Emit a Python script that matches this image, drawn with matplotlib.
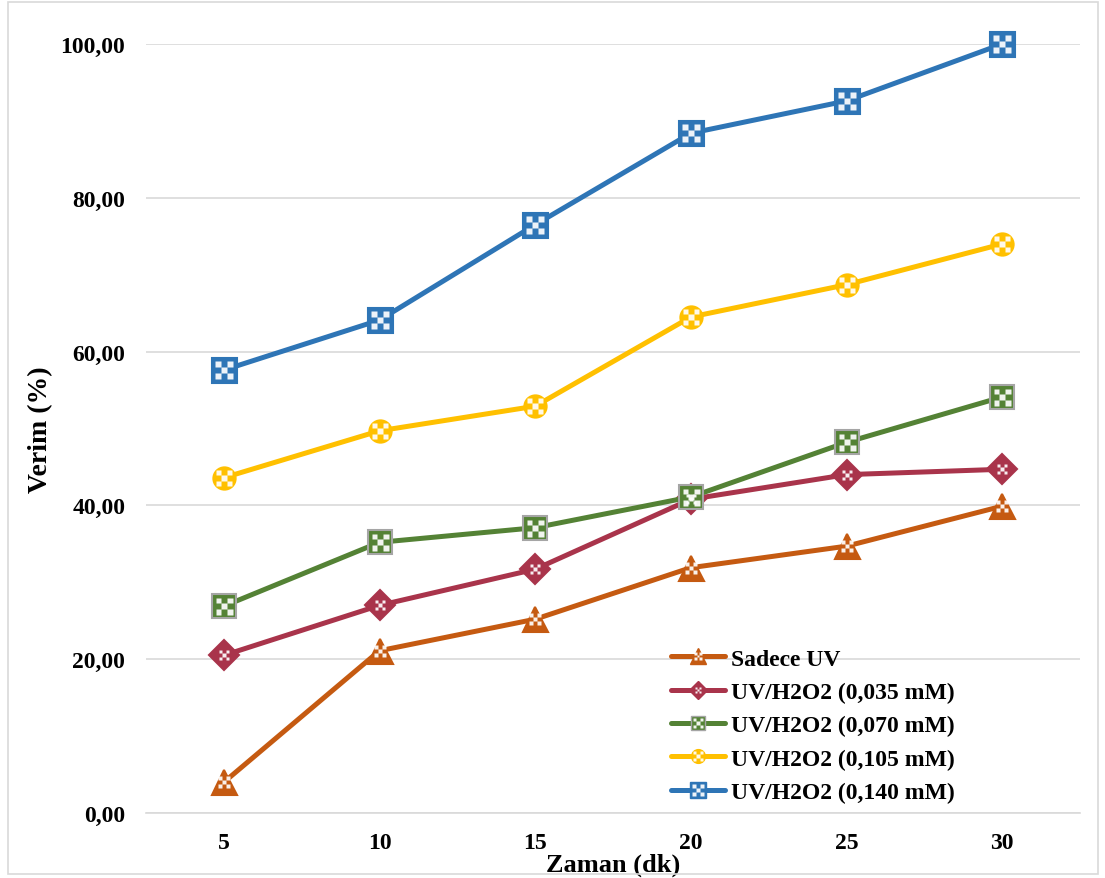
import matplotlib
matplotlib.use("Agg")
import matplotlib.pyplot as plt
from matplotlib.path import Path
from matplotlib.lines import Line2D
from matplotlib.patches import Rectangle
from matplotlib.legend_handler import HandlerTuple
import numpy as np

times = ["5", "10", "15", "20", "25", "30"]
sadece_uv = [4.0, 21.1, 25.2, 31.9, 34.7, 39.9]
uv_035 = [20.5, 27.0, 31.7, 40.8, 44.0, 44.7]
uv_070 = [26.9, 35.2, 37.1, 41.1, 48.2, 54.1]
uv_105 = [43.6, 49.7, 52.9, 64.5, 68.7, 74.0]
uv_140 = [57.6, 64.1, 76.5, 88.4, 92.6, 100.0]
labels = ["Sadece UV", "UV/H2O2 (0,035 mM)", "UV/H2O2 (0,070 mM)",
          "UV/H2O2 (0,105 mM)", "UV/H2O2 (0,140 mM)"]
yticks = [0, 20, 40, 60, 80, 100]
ytick_labels = ["0,00", "20,00", "40,00", "60,00", "80,00", "100,00"]

colors = ["#C55A11", "#A9344B", "#548235", "#FFC000", "#2E75B6"]
markers = ["^", "D", "s", "o", "s"]
msizes = [18, 15, 17, 16, 18]

plt.rcParams['font.family'] = ['Liberation Serif', 'DejaVu Serif']
plt.rcParams['font.weight'] = 'bold'

# checker-like pattern marker (3x3, X arrangement)
verts, codes = [], []
n = 3
cell = 2.0 / n
for i in range(n):
    for j in range(n):
        if (i + j) % 2 == 0:
            x0 = -1 + i * cell + 0.03
            y0 = -1 + j * cell + 0.03
            c = cell - 0.06
            verts += [(x0, y0), (x0 + c, y0), (x0 + c, y0 + c), (x0, y0 + c), (x0, y0)]
            codes += [Path.MOVETO, Path.LINETO, Path.LINETO, Path.LINETO, Path.CLOSEPOLY]
checker = Path(verts, codes)

fig = plt.figure(figsize=(11.05, 8.79), dpi=100)
ax = fig.add_axes([146/1105, 1 - 814/879, (1080-146)/1105, (814-45)/879])

x = np.arange(len(times))
series = [sadece_uv, uv_035, uv_070, uv_105, uv_140]
handles = []
for s, c, m, ms, lab in zip(series, colors, markers, msizes, labels):
    mec = "#A5A5A5" if c == "#548235" else c
    ax.plot(x, s, color=c, lw=3.6, marker=m, markersize=ms, markerfacecolor=c,
            markeredgecolor=mec, markeredgewidth=1.5, zorder=3, solid_capstyle='round',
            clip_on=False)
    pscale = 0.5 if m in ("^", "D") else 0.72
    ax.plot(x, s, linestyle='none', marker=checker, markersize=ms * pscale,
            markerfacecolor='white', markeredgecolor='none', alpha=0.92, zorder=4,
            clip_on=False)
    h1 = Line2D([], [], color=c, lw=3.6, marker=m, markersize=ms * 0.62,
                markerfacecolor=c, markeredgecolor=mec, solid_capstyle='round')
    h2 = Line2D([], [], linestyle='none', marker=checker, markersize=ms * 0.62 * pscale,
                markerfacecolor='white', markeredgecolor='none', alpha=0.92)
    handles.append((h1, h2))

ax.set_xlim(-0.5, len(times) - 0.5)
ax.set_ylim(0, 100)
ax.set_xticks(x)
ax.set_xticklabels(times, fontsize=17, fontweight='bold')
ax.set_yticks(yticks)
ax.set_yticklabels(ytick_labels, fontsize=17, fontweight='bold')
ax.tick_params(axis='both', length=0)
ax.tick_params(axis='x', pad=14)
ax.tick_params(axis='y', pad=15)
ax.grid(axis='y', color='#D9D9D9', lw=1.2, zorder=0)
ax.set_axisbelow(True)
for sp in ['top', 'right', 'left']:
    ax.spines[sp].set_visible(False)
ax.spines['bottom'].set_color('#D9D9D9')
ax.spines['bottom'].set_linewidth(1.2)

ax.set_xlabel("Zaman (dk)", fontsize=19, fontweight='bold')
ax.xaxis.set_label_coords(0.5, (814 - 854) / 769)
ax.set_ylabel("Verim (%)", fontsize=20, fontweight='bold')
ax.yaxis.set_label_coords((53 - 146) / 934, 0.5)

ax.legend(handles, labels, loc='lower left', bbox_to_anchor=((664 - 146) / 934, 3 / 769),
          frameon=False, handlelength=2.3, handletextpad=0.25,
          labelspacing=0.5, borderaxespad=0, borderpad=0.3,
          handler_map={tuple: HandlerTuple(ndivide=1, pad=0)},
          prop={'weight': 'bold', 'size': 17})

fig.patches.append(Rectangle((8/1105, 4/879), 1090/1105, 872/879, transform=fig.transFigure,
                             fill=False, edgecolor='#D9D9D9', lw=1.2))

fig.savefig("out.png", dpi=100, facecolor='white')
